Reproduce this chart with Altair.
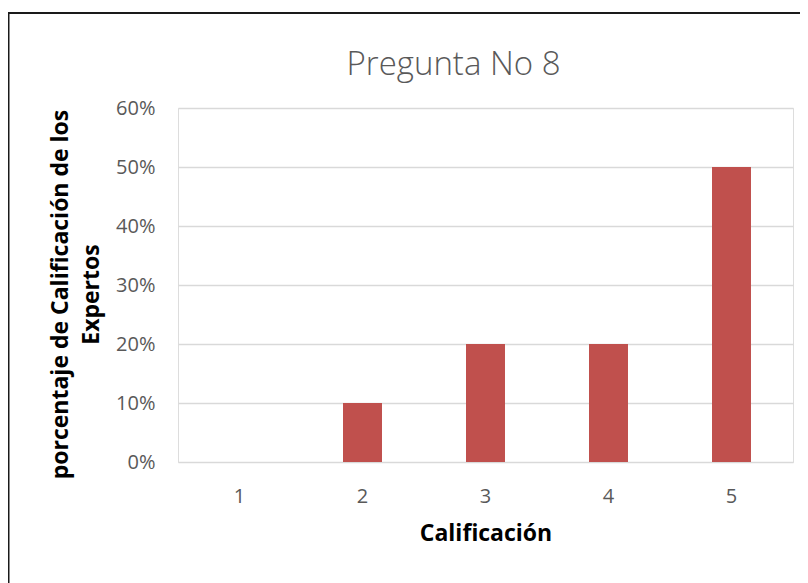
import altair as alt
import pandas as pd

categories = ["1", "2", "3", "4", "5"]
values = [0.0, 0.10, 0.20, 0.20, 0.50]
y_ticks = [0, 0.1, 0.2, 0.3, 0.4, 0.5, 0.6]
title_text = "Pregunta No 8"
x_title = "Calificación"
y_title = ["porcentaje de Calificación de los", "Expertos"]

df = pd.DataFrame({"cat": categories, "val": values})

bars = alt.Chart(df).mark_bar(color="#C0504D").encode(
    x=alt.X(
        "cat:N",
        sort=categories,
        scale=alt.Scale(paddingInner=0.683, paddingOuter=0.3415),
        axis=alt.Axis(
            title=x_title, labelAngle=0, ticks=False, tickSize=0, domain=False, grid=False,
            labelFont="Open Sans", labelFontSize=20, labelColor="#595959",
            labelBaseline="alphabetic", labelPadding=40,
            titleFont="Open Sans", titleFontSize=23, titleFontWeight="bold",
            titleColor="#000000", titleBaseline="alphabetic", titleY=78,
        ),
    ),
    y=alt.Y(
        "val:Q",
        scale=alt.Scale(domain=[0, 0.6]),
        axis=alt.Axis(
            values=y_ticks, format=".0%", ticks=False, tickSize=0, domain=False,
            grid=True, gridColor="#d9d9d9", gridWidth=1.5,
            labelFont="Open Sans", labelFontSize=20, labelColor="#595959",
            labelPadding=23, labelBaseline="middle",
            title=y_title, titleFont="Open Sans", titleFontSize=23, titleFontWeight="bold",
            titleColor="#000000", titleAngle=270, titleX=-111, titleY=186,
            titleAlign="center", titleBaseline="alphabetic", titleLineHeight=31,
        ),
    ),
)

frame_data = alt.Data(values=[{"k": 1}])
frame_top = alt.Chart(frame_data).mark_rule(color="#1a1a1a", strokeWidth=2).encode(
    x=alt.value(-169.5), x2=alt.value(700), y=alt.value(-95)
)
frame_left = alt.Chart(frame_data).mark_rule(color="#1a1a1a", strokeWidth=2).encode(
    x=alt.value(-169.5), y=alt.value(-96), y2=alt.value(600)
)

chart = alt.layer(frame_top, frame_left, bars).properties(
    width=615,
    height=354,
    autosize=alt.AutoSizeParams(type="none"),
    padding={"left": 170, "top": 100, "right": 7, "bottom": 130},
    title=alt.TitleParams(
        text=title_text, font="Open Sans", fontSize=33, fontWeight=300,
        color="#595959", anchor="middle", frame="group", dx=-32, dy=97,
        offset=0, baseline="alphabetic",
    ),
).configure_view(strokeWidth=0).configure(background="white")

chart.save("out.html", embed_options={"renderer": "svg", "actions": False})
